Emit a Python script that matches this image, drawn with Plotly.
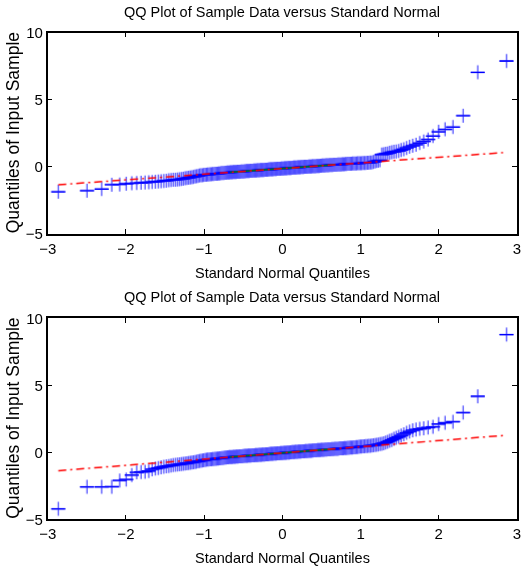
import numpy as np
from statistics import NormalDist
import plotly.graph_objects as go

# Sorted sample values for the two QQ panels (240 observations each)
sample_top = [
    -1.85, -1.77, -1.65, -1.32, -1.30, -1.25, -1.22, -1.20, -1.18, -1.16,
    -1.14, -1.12, -1.10, -1.08, -1.06, -1.04, -1.02, -1.00, -0.98, -0.96,
    -0.95, -0.93, -0.92, -0.90, -0.88, -0.85, -0.83, -0.81, -0.78, -0.76,
    -0.74, -0.71, -0.69, -0.67, -0.64, -0.62, -0.61, -0.60, -0.59, -0.58,
    -0.57, -0.56, -0.55, -0.54, -0.53, -0.52, -0.51, -0.50, -0.50, -0.49,
    -0.48, -0.47, -0.46, -0.46, -0.45, -0.44, -0.43, -0.42, -0.42, -0.41,
    -0.40, -0.40, -0.39, -0.38, -0.38, -0.37, -0.37, -0.36, -0.36, -0.35,
    -0.35, -0.34, -0.34, -0.33, -0.33, -0.32, -0.32, -0.31, -0.31, -0.30,
    -0.30, -0.29, -0.29, -0.28, -0.28, -0.27, -0.27, -0.26, -0.26, -0.25,
    -0.25, -0.24, -0.24, -0.23, -0.23, -0.22, -0.22, -0.22, -0.21, -0.21,
    -0.20, -0.20, -0.19, -0.19, -0.18, -0.18, -0.17, -0.17, -0.17, -0.16,
    -0.16, -0.15, -0.15, -0.14, -0.14, -0.13, -0.13, -0.13, -0.12, -0.12,
    -0.11, -0.11, -0.10, -0.10, -0.09, -0.09, -0.08, -0.08, -0.08, -0.07,
    -0.07, -0.06, -0.06, -0.05, -0.05, -0.04, -0.04, -0.04, -0.03, -0.03,
    -0.02, -0.02, -0.01, -0.01, 0.00, 0.00, 0.01, 0.01, 0.01, 0.02,
    0.02, 0.03, 0.03, 0.04, 0.04, 0.05, 0.05, 0.05, 0.06, 0.06,
    0.07, 0.07, 0.08, 0.08, 0.09, 0.09, 0.10, 0.10, 0.11, 0.11,
    0.12, 0.12, 0.13, 0.13, 0.14, 0.14, 0.15, 0.15, 0.16, 0.16,
    0.17, 0.17, 0.18, 0.18, 0.19, 0.19, 0.20, 0.20, 0.21, 0.22,
    0.22, 0.23, 0.23, 0.24, 0.24, 0.25, 0.25, 0.26, 0.26, 0.27,
    0.27, 0.28, 0.28, 0.29, 0.30, 0.30, 0.31, 0.32, 0.33, 0.34,
    0.36, 0.40, 0.44, 0.47, 0.50, 0.92, 0.95, 0.98, 1.01, 1.05,
    1.10, 1.13, 1.16, 1.19, 1.26, 1.32, 1.42, 1.50, 1.58, 1.66,
    1.78, 1.90, 2.05, 2.30, 2.62, 2.80, 2.97, 3.82, 7.05, 7.89,
]

sample_bottom = [
    -4.22, -2.58, -2.58, -2.57, -2.10, -2.03, -1.70, -1.50, -1.47, -1.45,
    -1.40, -1.27, -1.22, -1.17, -1.12, -1.08, -1.05, -1.02, -0.99, -0.96,
    -0.94, -0.92, -0.90, -0.88, -0.86, -0.84, -0.82, -0.80, -0.78, -0.76,
    -0.74, -0.72, -0.70, -0.68, -0.66, -0.64, -0.62, -0.60, -0.58, -0.56,
    -0.55, -0.54, -0.53, -0.52, -0.51, -0.50, -0.49, -0.48, -0.47, -0.46,
    -0.45, -0.44, -0.43, -0.42, -0.41, -0.40, -0.39, -0.38, -0.37, -0.36,
    -0.36, -0.35, -0.35, -0.34, -0.33, -0.33, -0.32, -0.31, -0.31, -0.30,
    -0.30, -0.29, -0.29, -0.28, -0.28, -0.27, -0.27, -0.26, -0.26, -0.25,
    -0.25, -0.24, -0.24, -0.23, -0.23, -0.22, -0.22, -0.21, -0.21, -0.20,
    -0.20, -0.19, -0.19, -0.18, -0.18, -0.17, -0.17, -0.16, -0.16, -0.15,
    -0.15, -0.14, -0.14, -0.13, -0.13, -0.12, -0.12, -0.11, -0.11, -0.10,
    -0.10, -0.09, -0.09, -0.08, -0.08, -0.07, -0.07, -0.06, -0.06, -0.05,
    -0.05, -0.04, -0.04, -0.03, -0.03, -0.02, -0.02, -0.01, -0.01, 0.00,
    0.00, 0.01, 0.01, 0.02, 0.02, 0.03, 0.03, 0.04, 0.04, 0.05,
    0.05, 0.06, 0.06, 0.07, 0.07, 0.08, 0.08, 0.09, 0.09, 0.10,
    0.10, 0.11, 0.11, 0.12, 0.12, 0.13, 0.13, 0.14, 0.14, 0.15,
    0.15, 0.16, 0.16, 0.17, 0.17, 0.18, 0.18, 0.19, 0.19, 0.20,
    0.21, 0.21, 0.22, 0.22, 0.23, 0.23, 0.24, 0.24, 0.25, 0.26,
    0.26, 0.27, 0.27, 0.28, 0.29, 0.29, 0.30, 0.30, 0.31, 0.32,
    0.32, 0.33, 0.34, 0.35, 0.35, 0.36, 0.37, 0.38, 0.39, 0.40,
    0.41, 0.42, 0.43, 0.44, 0.45, 0.46, 0.47, 0.48, 0.49, 0.50,
    0.52, 0.54, 0.56, 0.58, 0.61, 0.64, 0.68, 0.72, 0.78, 0.85,
    0.92, 1.00, 1.08, 1.15, 1.25, 1.35, 1.45, 1.55, 1.64, 1.70,
    1.75, 1.79, 1.85, 1.90, 2.11, 2.20, 2.28, 2.96, 4.18, 8.78,
]

x_ticks = [-3, -2, -1, 0, 1, 2, 3]
y_ticks = [-5, 0, 5, 10]
x_limits = [-3, 3]
y_limits = [-5, 10]

plot_title = "QQ Plot of Sample Data versus Standard Normal"
x_label = "Standard Normal Quantiles"
y_label = "Quantiles of Input Sample"

FONT = "Liberation Sans, Arial, sans-serif"


def normal_quantiles(n):
    """Theoretical standard-normal plotting positions (i - 0.5) / n."""
    nd = NormalDist()
    return np.array([nd.inv_cdf((i - 0.5) / n) for i in range(1, n + 1)])


def qq_traces(sample, xref, yref):
    y = np.sort(np.asarray(sample, dtype=float))
    x = normal_quantiles(len(y))
    q1x, q3x = np.percentile(x, [25, 75])
    q1y, q3y = np.percentile(y, [25, 75])
    slope = (q3y - q1y) / (q3x - q1x)
    centre_x = (q1x + q3x) / 2
    centre_y = (q1y + q3y) / 2
    ext_x = np.array([x.min(), x.max()])
    ext_y = centre_y + slope * (ext_x - centre_x)
    common = dict(xaxis=xref, yaxis=yref, showlegend=False, hoverinfo="skip")
    return [
        # crosses: light vertical band from the stacked markers
        go.Scatter(x=x, y=y, mode="markers", opacity=0.7,
                   marker=dict(symbol="cross-thin", size=10,
                               line=dict(color="#0000ff", width=1.3)),
                   **common),
        # darker horizontal strokes of the crosses
        go.Scatter(x=x, y=y, mode="markers",
                   marker=dict(symbol="line-ew", size=10,
                               line=dict(color="#0000ff", width=1.3)),
                   **common),
        # quartile segment
        go.Scatter(x=[q1x, q3x], y=[q1y, q3y], mode="lines",
                   line=dict(color="#008000", width=1.5), **common),
        # extended reference line
        go.Scatter(x=ext_x, y=ext_y, mode="lines",
                   line=dict(color="#ff0000", width=1.5, dash="8px,4px,2px,4px"),
                   **common),
    ]


fig = go.Figure()
for tr in qq_traces(sample_top, "x", "y") + qq_traces(sample_bottom, "x2", "y2"):
    fig.add_trace(tr)

W, H = 522, 573
left, right = 47.7, 517.0
panels = [(32.7, 234.0), (318.3, 519.3)]

axis_style = dict(
    showline=True, linecolor="black", linewidth=1.5, mirror="allticks",
    ticks="inside", ticklen=5, tickwidth=1, tickcolor="black",
    showgrid=False, zeroline=False, automargin=False,
    tickfont=dict(family=FONT, size=15, color="black"),
)

layout = dict(
    width=W, height=H, margin=dict(l=0, r=0, t=0, b=0, pad=0),
    paper_bgcolor="white", plot_bgcolor="white",
    font=dict(family=FONT, color="black"),
)

annotations = []
for k, (top, bottom) in enumerate(panels):
    sfx = "" if k == 0 else str(k + 1)
    layout["xaxis" + sfx] = dict(
        domain=[left / W, right / W], range=x_limits, tickvals=x_ticks,
        anchor="y" + sfx, **axis_style)
    layout["yaxis" + sfx] = dict(
        domain=[1 - bottom / H, 1 - top / H], range=y_limits, tickvals=y_ticks,
        anchor="x" + sfx, **axis_style)
    cx = (left + right) / 2 / W
    annotations.append(dict(text=plot_title, xref="paper", yref="paper",
                            x=cx, y=1 - (top - 21) / H, xanchor="center",
                            yanchor="middle", borderpad=0, showarrow=False,
                            font=dict(family=FONT, size=14.5)))
    annotations.append(dict(text=x_label, xref="paper", yref="paper",
                            x=cx, y=1 - (bottom + 39) / H, xanchor="center",
                            yanchor="middle", borderpad=0, showarrow=False,
                            font=dict(family=FONT, size=14.5)))
    annotations.append(dict(text=y_label, xref="paper", yref="paper",
                            x=13 / W, y=1 - (top + bottom) / 2 / H,
                            xanchor="center", yanchor="middle", textangle=-90,
                            showarrow=False, font=dict(family=FONT, size=17.5)))

layout["annotations"] = annotations
fig.update_layout(**layout)
fig.write_html("out.html")
